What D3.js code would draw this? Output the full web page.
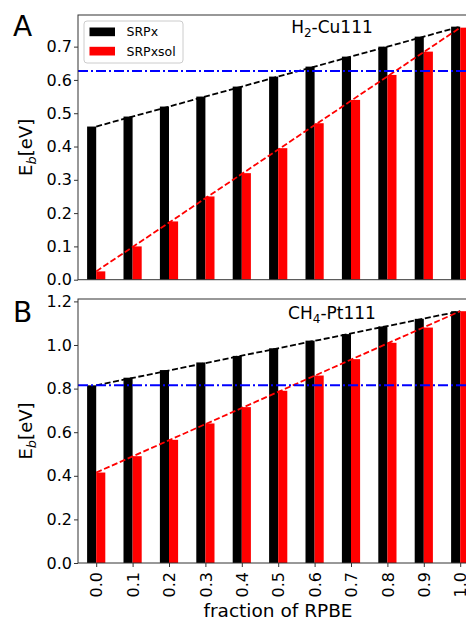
<!DOCTYPE html>
<html>
<head>
<meta charset="utf-8">
<script src="https://cdn.jsdelivr.net/npm/d3@7"></script>
<style>
  body { margin: 0; background: #fff; }
  text { font-family: "DejaVu Sans", sans-serif; fill: #000; }
</style>
</head>
<body>
<div id="chart"></div>
<script>
// fraction of RPBE (x categories)
const fractions = ["0.0", "0.1", "0.2", "0.3", "0.4", "0.5", "0.6", "0.7", "0.8", "0.9", "1.0"];

// panel A: H2-Cu111
const h2Srpx    = [0.46, 0.49, 0.52, 0.55, 0.58, 0.61, 0.64, 0.67, 0.70, 0.73, 0.76];
const h2Srpxsol = [0.025, 0.10, 0.175, 0.25, 0.32, 0.395, 0.47, 0.54, 0.615, 0.685, 0.757];
const h2Ref = 0.627;
const h2Ticks = [0.0, 0.1, 0.2, 0.3, 0.4, 0.5, 0.6, 0.7];

// panel B: CH4-Pt111
const ch4Srpx    = [0.815, 0.85, 0.885, 0.92, 0.95, 0.985, 1.02, 1.05, 1.085, 1.12, 1.155];
const ch4Srpxsol = [0.415, 0.49, 0.565, 0.64, 0.715, 0.79, 0.86, 0.935, 1.01, 1.08, 1.155];
const ch4Ref = 0.815;
const ch4Ticks = [0.0, 0.2, 0.4, 0.6, 0.8, 1.0, 1.2];

const width = 466, height = 622;
const left = 78, step = 36.4;
const barW = step * 0.25;

const svg = d3.select("#chart").append("svg")
    .attr("width", width)
    .attr("height", height);

const x = d3.scaleLinear()
    .domain([-0.5, fractions.length - 0.5])
    .range([left, left + fractions.length * step]);

function drawPanel(cfg) {
    const y = d3.scaleLinear().domain(cfg.yDomain).range([cfg.bottom, cfg.top]);
    const g = svg.append("g");

    // bars
    g.selectAll(".black").data(cfg.srpx).enter().append("rect")
        .attr("x", (d, i) => x(i) - barW)
        .attr("y", d => y(d))
        .attr("width", barW)
        .attr("height", d => y(0) - y(d))
        .attr("fill", "#000");
    g.selectAll(".red").data(cfg.srpxsol).enter().append("rect")
        .attr("x", (d, i) => x(i))
        .attr("y", d => y(d))
        .attr("width", barW)
        .attr("height", d => y(0) - y(d))
        .attr("fill", "#ff0000");

    // dashed trend lines between end points
    const n = fractions.length - 1;
    g.append("line")
        .attr("x1", x(0)).attr("y1", y(cfg.srpx[0]))
        .attr("x2", x(n)).attr("y2", y(cfg.srpx[n]))
        .attr("stroke", "#000").attr("stroke-width", 1.8)
        .attr("stroke-dasharray", "6,2.6");
    g.append("line")
        .attr("x1", x(0)).attr("y1", y(cfg.srpxsol[0]))
        .attr("x2", x(n)).attr("y2", y(cfg.srpxsol[n]))
        .attr("stroke", "#ff0000").attr("stroke-width", 1.8)
        .attr("stroke-dasharray", "6,2.6");

    // reference line
    g.append("line")
        .attr("x1", left).attr("x2", width)
        .attr("y1", y(cfg.ref)).attr("y2", y(cfg.ref))
        .attr("stroke", "#0000ff").attr("stroke-width", 2)
        .attr("stroke-dasharray", "10,3,2,3");

    // frame
    g.append("rect")
        .attr("x", left).attr("y", cfg.top)
        .attr("width", x.range()[1] - left).attr("height", cfg.bottom - cfg.top)
        .attr("fill", "none").attr("stroke", "#333").attr("stroke-width", 1);

    // y axis
    const yAxis = d3.axisLeft(y).tickValues(cfg.yTicks)
        .tickFormat(d3.format(".1f")).tickSize(4).tickPadding(2);
    const ya = g.append("g").attr("transform", `translate(${left},0)`).call(yAxis);
    ya.select(".domain").remove();
    ya.selectAll("line").attr("stroke", "#333");
    ya.selectAll("text").style("font-size", "16px").style("font-family", "DejaVu Sans");

    // y label
    const yl = g.append("text")
        .attr("transform", `translate(32,${(cfg.top + cfg.bottom) / 2}) rotate(-90)`)
        .attr("text-anchor", "middle")
        .style("font-size", "18px");
    yl.append("tspan").text("E");
    yl.append("tspan").text("b").style("font-style", "italic").style("font-size", "13px").attr("dy", 4);
    yl.append("tspan").text("[eV]").attr("dy", -4);

    // panel letter
    g.append("text").attr("x", 13).attr("y", cfg.letterY)
        .style("font-size", "28px").text(cfg.letter);

    // system title
    const t = g.append("text").attr("x", 332).attr("y", cfg.titleY)
        .attr("text-anchor", "middle").style("font-size", "17px");
    t.append("tspan").text(cfg.title[0]);
    t.append("tspan").text(cfg.title[1]).style("font-size", "12px").attr("dy", 4);
    t.append("tspan").text(cfg.title[2]).attr("dy", -4);

    return { y, g };
}

drawPanel({
    top: 15, bottom: 279.7, yDomain: [0, 0.795], yTicks: h2Ticks,
    srpx: h2Srpx, srpxsol: h2Srpxsol, ref: h2Ref,
    letter: "A", letterY: 36, title: ["H", "2", "-Cu111"], titleY: 32.5
});

drawPanel({
    top: 299, bottom: 563, yDomain: [0, 1.211], yTicks: ch4Ticks,
    srpx: ch4Srpx, srpxsol: ch4Srpxsol, ref: ch4Ref,
    letter: "B", letterY: 322, title: ["CH", "4", "-Pt111"], titleY: 318.5
});

// x axis on bottom panel
const xAxis = d3.axisBottom(x).tickValues(d3.range(fractions.length))
    .tickFormat(i => fractions[i]).tickSize(4).tickPadding(2);
const xa = svg.append("g").attr("transform", "translate(0,563)").call(xAxis);
xa.select(".domain").remove();
xa.selectAll("line").attr("stroke", "#333");
xa.selectAll("text")
    .style("font-size", "16px").style("font-family", "DejaVu Sans")
    .attr("text-anchor", "end")
    .attr("dy", "0.35em")
    .attr("transform", "translate(0,9) rotate(-90)")
    .attr("x", 0).attr("y", 0);

svg.append("text").attr("x", 278).attr("y", 617)
    .attr("text-anchor", "middle").style("font-size", "18.5px")
    .text("fraction of RPBE");

// legend in panel A
const leg = svg.append("g");
leg.append("rect").attr("x", 84).attr("y", 21).attr("width", 99).attr("height", 42)
    .attr("rx", 3).attr("fill", "#fff").attr("fill-opacity", 0.8)
    .attr("stroke", "#ccc");
const legItems = [["SRPx", "#000"], ["SRPxsol", "#ff0000"]];
legItems.forEach((d, i) => {
    leg.append("rect").attr("x", 89.5).attr("y", 27.5 + i * 19.3)
        .attr("width", 25.5).attr("height", 8.7).attr("fill", d[1]);
    leg.append("text").attr("x", 126.5).attr("y", 32 + i * 19.3)
        .attr("dy", "0.35em").style("font-size", "12.5px").text(d[0]);
});
</script>
</body>
</html>
